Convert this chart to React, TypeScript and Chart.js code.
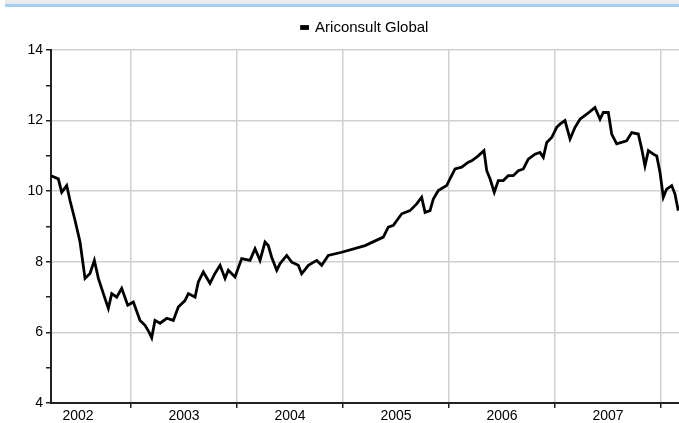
import React, { useEffect, useRef } from "react";
import { Chart, registerables } from "chart.js";

Chart.register(...registerables);

const seriesName = "Ariconsult Global";

// decimal years
const dates = [
  2002.245, 2002.314, 2002.346, 2002.393, 2002.425, 2002.472, 2002.519, 2002.566,
  2002.613, 2002.654, 2002.692, 2002.739, 2002.786, 2002.818, 2002.865, 2002.912,
  2002.969, 2003.022, 2003.085, 2003.132, 2003.170, 2003.195, 2003.226, 2003.274,
  2003.337, 2003.399, 2003.446, 2003.509, 2003.541, 2003.604, 2003.635, 2003.682,
  2003.745, 2003.792, 2003.840, 2003.887, 2003.918, 2003.981, 2004.044, 2004.123,
  2004.170, 2004.217, 2004.264, 2004.295, 2004.327, 2004.375, 2004.406, 2004.469,
  2004.516, 2004.578, 2004.610, 2004.673, 2004.752, 2004.799, 2004.861, 2004.988,
  2005.208, 2005.380, 2005.427, 2005.475, 2005.554, 2005.632, 2005.695, 2005.742,
  2005.774, 2005.821, 2005.852, 2005.899, 2005.978, 2006.009, 2006.057, 2006.120,
  2006.182, 2006.214, 2006.276, 2006.330, 2006.356, 2006.387, 2006.427, 2006.465,
  2006.512, 2006.559, 2006.606, 2006.654, 2006.701, 2006.748, 2006.811, 2006.858,
  2006.890, 2006.922, 2006.969, 2007.016, 2007.047, 2007.094, 2007.142, 2007.189,
  2007.236, 2007.299, 2007.377, 2007.425, 2007.456, 2007.503, 2007.535, 2007.582,
  2007.676, 2007.724, 2007.786, 2007.818, 2007.849, 2007.881, 2007.928, 2007.960,
  2007.991, 2008.022, 2008.053, 2008.101, 2008.132, 2008.163,
];

const values = [
  10.44, 10.35, 9.97, 10.16, 9.73, 9.17, 8.56, 7.53,
  7.67, 8.04, 7.53, 7.10, 6.68, 7.10, 7.00, 7.25,
  6.77, 6.86, 6.34, 6.20, 6.01, 5.85, 6.34, 6.26,
  6.40, 6.34, 6.72, 6.90, 7.10, 7.00, 7.43, 7.71,
  7.39, 7.67, 7.90, 7.53, 7.76, 7.57, 8.09, 8.04,
  8.37, 8.04, 8.56, 8.46, 8.13, 7.76, 7.95, 8.18,
  7.99, 7.90, 7.66, 7.90, 8.04, 7.90, 8.18, 8.27,
  8.46, 8.70, 8.98, 9.03, 9.36, 9.45, 9.64, 9.83,
  9.40, 9.45, 9.78, 10.02, 10.16, 10.35, 10.63, 10.68,
  10.82, 10.86, 11.00, 11.15, 10.58, 10.35, 9.97, 10.30,
  10.30, 10.44, 10.44, 10.58, 10.63, 10.91, 11.05, 11.10,
  10.96, 11.38, 11.52, 11.81, 11.90, 12.00, 11.48, 11.81,
  12.04, 12.18, 12.37, 12.04, 12.23, 12.23, 11.62, 11.34,
  11.43, 11.66, 11.62, 11.20, 10.72, 11.15, 11.05, 11.00,
  10.53, 9.83, 10.06, 10.16, 9.92, 9.45,
];

const yearLabels = ["2002", "2003", "2004", "2005", "2006", "2007"];
const yearBoundaries = [2003, 2004, 2005, 2006, 2007, 2008];
const yTickLabels = [4, 6, 8, 10, 12, 14];

const FONT = { family: "'Liberation Sans', Arial, sans-serif", size: 14 };
const LEGEND_FONT = { family: "'Liberation Sans', Arial, sans-serif", size: 15 };

const legendGap = {
  id: "legendGap",
  beforeInit(chart: any) {
    if (!chart.legend) return;
    const orig = chart.legend.fit;
    chart.legend.fit = function () {
      orig.call(this);
      this.height += 5;
    };
  },
  afterLayout(chart: any) {
    const lg = chart.legend;
    if (!lg) return;
    // center the legend over the plot area
    lg.left = chart.chartArea.left;
    lg.right = chart.chartArea.right;
    lg.width = lg.right - lg.left;
  },
};

export default function App() {
  const ref = useRef<HTMLCanvasElement>(null);

  useEffect(() => {
    const labelPositions = yearLabels.map((y) => Number(y) + 0.5);
    const chart = new Chart(ref.current!, {
      type: "line",
      plugins: [legendGap],
      data: {
        datasets: [
          {
            label: seriesName,
            data: dates.map((x, i) => ({ x, y: values[i] })),
            borderColor: "#000",
            backgroundColor: "#000",
            borderWidth: 2.8,
            pointRadius: 0,
            tension: 0,
          },
        ],
      },
      options: {
        animation: false,
        responsive: false,
        maintainAspectRatio: false,
        layout: { padding: { top: 10, left: 0, right: 0, bottom: 0 } },
        plugins: {
          legend: {
            display: true,
            labels: {
              boxWidth: 6,
              boxHeight: 2,
              color: "#000",
              font: LEGEND_FONT,
              padding: 10,
            },
          },
          tooltip: { enabled: false },
        },
        scales: {
          x: {
            type: "linear",
            min: 2002.245,
            max: 2008.17,
            afterBuildTicks: (scale: any) => {
              const all = [...yearBoundaries, ...labelPositions].sort((a, b) => a - b);
              scale.ticks = all.map((v) => ({ value: v }));
            },
            afterFit: (scale: any) => {
              scale.height = 20;
            },
            ticks: {
              autoSkip: false,
              maxRotation: 0,
              color: "#000",
              font: FONT,
              padding: 0,
              callback: (v: any) => {
                const idx = labelPositions.indexOf(Number(v));
                return idx >= 0 ? yearLabels[idx] : "";
              },
            },
            grid: {
              color: (ctx: any) =>
                yearBoundaries.includes(ctx.tick?.value) ? "#d0d0d0" : "rgba(0,0,0,0)",
              tickColor: (ctx: any) =>
                yearBoundaries.includes(ctx.tick?.value) ? "#222" : "rgba(0,0,0,0)",
              tickLength: 5,
              lineWidth: 1.5,
            },
            border: { color: "#222", width: 2 },
          },
          y: {
            min: 4,
            max: 14,
            afterFit: (scale: any) => {
              scale.width = 51;
            },
            ticks: {
              stepSize: 1,
              color: "#000",
              font: FONT,
              padding: 3,
              callback: (v: any) => (yTickLabels.includes(Number(v)) ? String(v) : ""),
            },
            grid: {
              color: (ctx: any) =>
                yTickLabels.includes(ctx.tick?.value) && ctx.tick?.value !== 4
                  ? "#d0d0d0"
                  : "rgba(0,0,0,0)",
              tickColor: "#222",
              tickLength: 5,
              lineWidth: 1.5,
            },
            border: { color: "#222", width: 2 },
          },
        },
      },
    });
    return () => chart.destroy();
  }, []);

  return (
    <div style={{ position: "fixed", left: 0, top: 0, width: 679, height: 423, background: "#fff" }}>
      <canvas ref={ref} width={679} height={423} style={{ position: "absolute", left: 0, top: 0 }} />
      <div style={{ position: "absolute", left: 5, top: 0, width: 674, height: 4, background: "#ececec" }} />
      <div style={{ position: "absolute", left: 5, top: 4, width: 674, height: 3, background: "#a3cef8" }} />
    </div>
  );
}
